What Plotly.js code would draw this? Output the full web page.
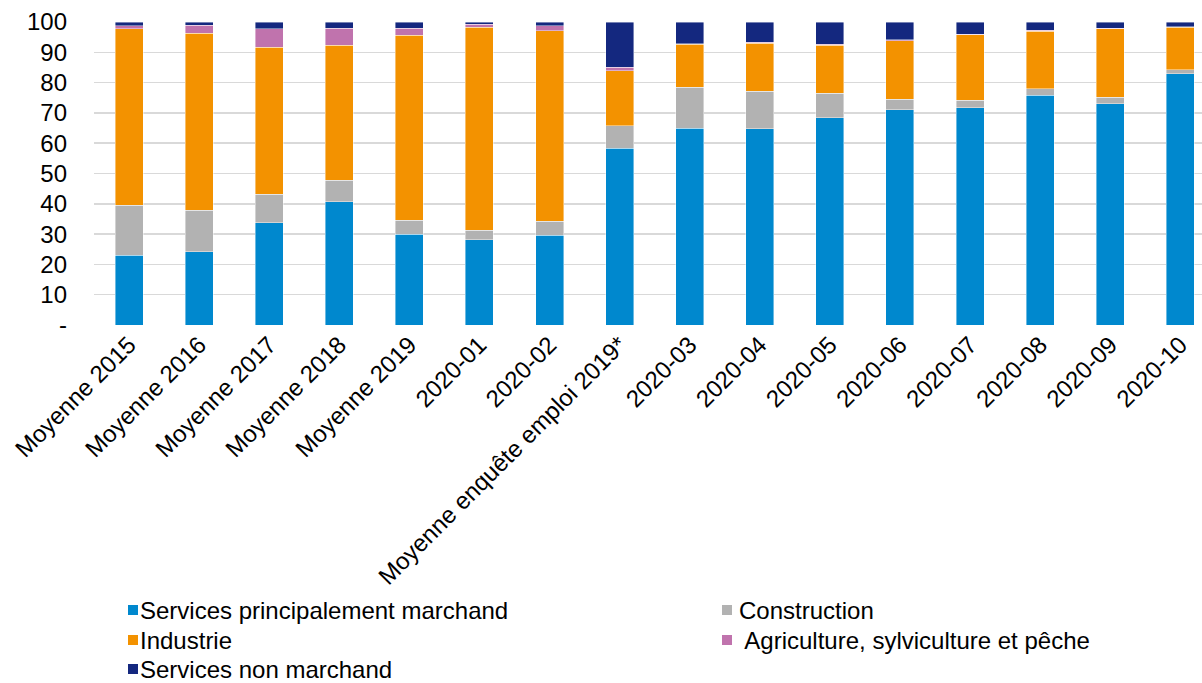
<!DOCTYPE html>
<html>
<head>
<meta charset="utf-8">
<script src="https://cdn.plot.ly/plotly-3.0.1.min.js"></script>
<style>html,body{margin:0;padding:0;background:#fff;}#chart{width:1202px;height:683px;}</style>
</head>
<body>
<div id="chart"></div>
<script>
const categories = ["Moyenne 2015","Moyenne 2016","Moyenne 2017","Moyenne 2018","Moyenne 2019","2020-01","2020-02","Moyenne enquête emploi 2019*","2020-03","2020-04","2020-05","2020-06","2020-07","2020-08","2020-09","2020-10"];
const servicesMarchand = [23.0,24.2,33.7,40.6,30.0,28.1,29.7,58.4,65.0,64.7,68.4,71.1,71.7,75.9,73.0,82.9];
const construction     = [16.5,13.6,9.4,7.1,4.5,3.1,4.6,7.3,13.4,12.5,8.1,3.4,2.4,2.0,2.1,1.3];
const industrie        = [58.3,58.5,48.5,44.6,61.1,67.0,62.8,18.2,14.2,15.8,15.9,19.3,21.7,19.1,22.6,14.0];
const agriculture      = [0.9,2.6,6.2,5.7,2.4,1.1,1.6,1.2,0.3,0.3,0.2,0.3,0.2,0.2,0.2,0.3];
const servicesNonMarch = [1.3,1.1,2.2,2.0,2.0,0.7,1.3,14.9,7.0,6.7,7.4,5.9,4.0,2.8,2.1,1.5];
const seriesNames = ["Services principalement marchand","Construction","Industrie"," Agriculture, sylviculture et pêche","Services non marchand"];
const seriesColors = ["#0088CE","#B2B2B2","#F39200","#C073AD","#14287F"];
const yTickVals = [0,10,20,30,40,50,60,70,80,90,100];
const yTickText = ["-","10","20","30","40","50","60","70","80","90","100"];

const W = 1202, H = 683, ML = 94, MT = 22, MB = 358;
const plotW = W - ML, plotH = H - MT - MB;
const seriesValues = [servicesMarchand, construction, industrie, agriculture, servicesNonMarch];

const line = {width:0.7,color:'rgba(255,255,255,0.6)'};
const data = seriesNames.map((n,i)=>({type:'bar', name:n, x:categories, y:seriesValues[i], marker:{color:seriesColors[i], line:line}, hoverinfo:'name+y'}));

// Custom legend (2 columns, row-major) placed below the chart
const colX = [133, 727];       // square centres (px)
const textX = [138, 737];      // text start (px)
const rowY = [610, 640, 669];  // row centres (px)
const px2x = p => (p - ML) / plotW;
const py2y = p => (MT + plotH - p) / plotH;
const shapes = [], annotations = [];
seriesNames.forEach((n,i)=>{
  const c = i % 2, r = Math.floor(i / 2);
  shapes.push({type:'rect', xref:'paper', yref:'paper', layer:'above',
    x0:px2x(colX[c]-5), x1:px2x(colX[c]+5), y0:py2y(rowY[r]+5), y1:py2y(rowY[r]-5),
    fillcolor:seriesColors[i], line:{width:0}});
  annotations.push({xref:'paper', yref:'paper', x:px2x(textX[c]), y:py2y(rowY[r]), xanchor:'left', yanchor:'middle',
    text:n, showarrow:false, font:{size:24, color:'#000'}});
});

const layout = {
  width:W, height:H,
  margin:{l:ML, r:0, t:MT, b:MB},
  barmode:'stack', bargap:0.6,
  paper_bgcolor:'#fff', plot_bgcolor:'#fff',
  font:{family:'"Liberation Sans", Arial, sans-serif', size:24, color:'#000'},
  xaxis:{type:'category', tickangle:-45, range:[-0.5,15.31], showgrid:false, showline:false, zeroline:false, ticks:'', automargin:false, tickfont:{size:24}},
  yaxis:{range:[0,100], tickvals:yTickVals, ticktext:yTickText, showgrid:true, gridcolor:'#D9D9D9', gridwidth:1.5, zeroline:false, showline:false, ticks:'', automargin:false, ticklabelstandoff:26, tickfont:{size:24}},
  showlegend:false,
  shapes:shapes,
  annotations:annotations
};
Plotly.newPlot('chart', data, layout, {displayModeBar:false, staticPlot:true});
</script>
</body>
</html>
